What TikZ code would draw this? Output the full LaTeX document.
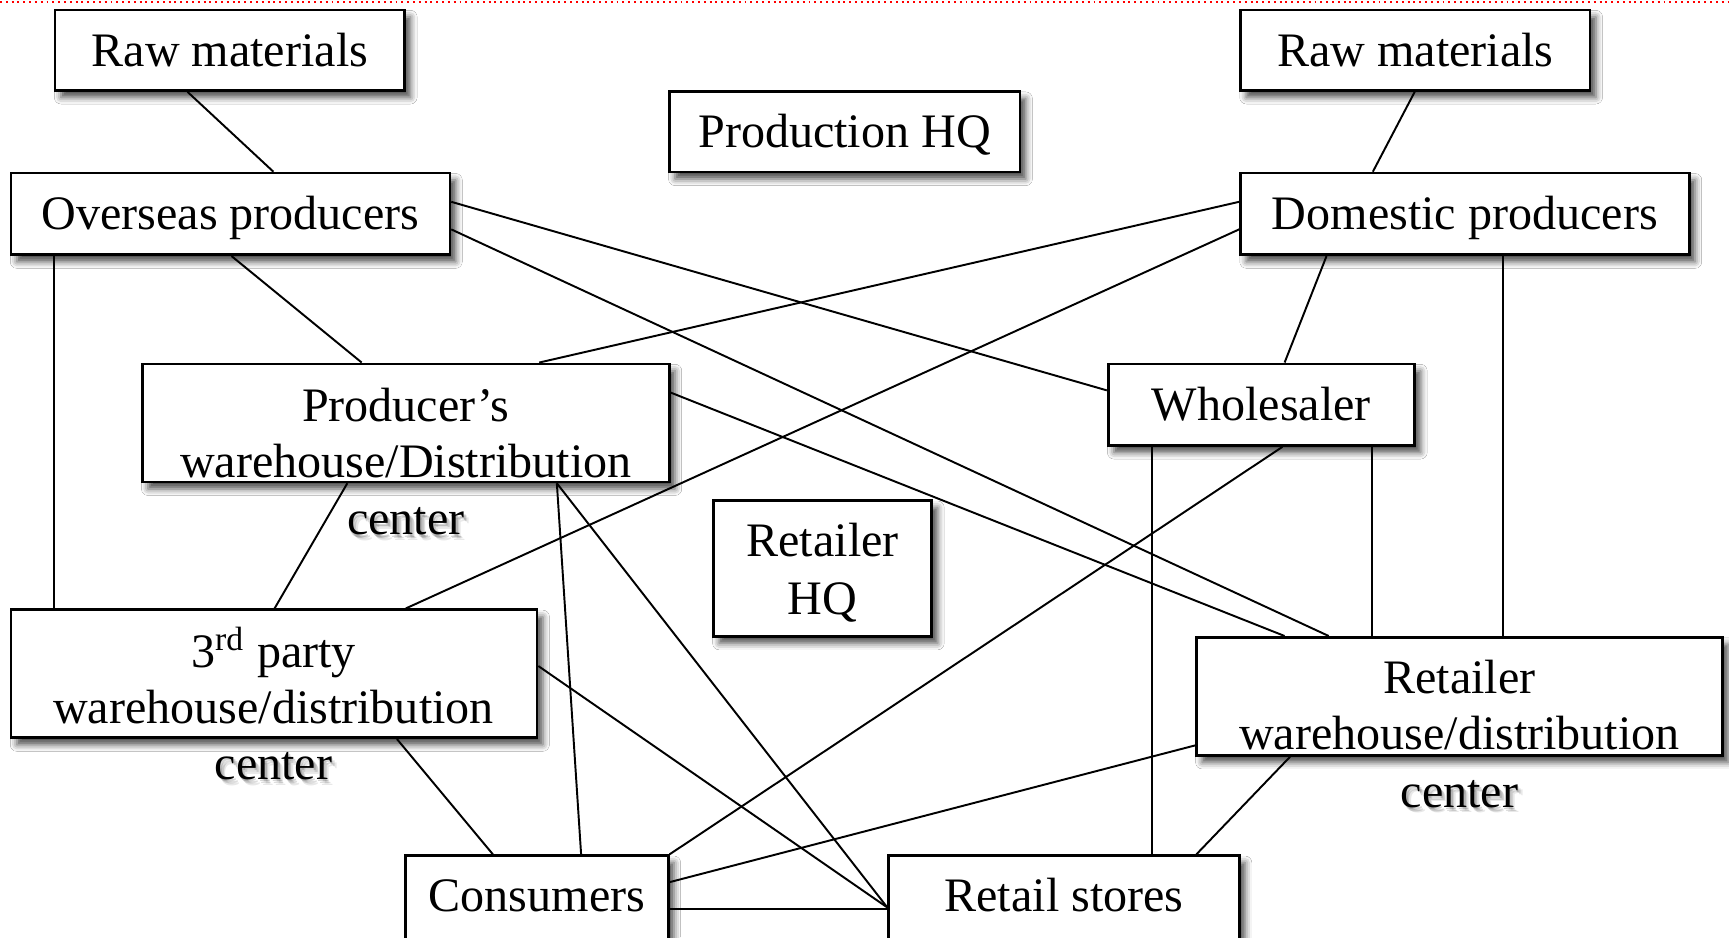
\documentclass[tikz,border=0pt]{standalone}
\usepackage{fontspec}
\setmainfont{Liberation Serif}
\usetikzlibrary{shadows.blur,fit,backgrounds}

% label text with a soft drop shadow (used where text runs out of its box)
\newcommand\softlabel[4]{%
  \node[lbl, opacity=0.16] (#1s1) at ([shift={(1.5,2)}]#2,#3) {#4};
  \node[lbl, opacity=0.13] (#1s2) at ([shift={(3,3.5)}]#2,#3) {#4};
  \node[lbl, opacity=0.09] (#1s3) at ([shift={(4.5,5)}]#2,#3) {#4};
  \node[lbl] (#1) at (#2,#3) {#4};}

\begin{document}
\begin{tikzpicture}[x=0.01cm,y=-0.01cm,
  box/.style={draw=black, line width=0.7pt, fill=white, inner sep=0pt,
    blur shadow={shadow xshift=1.5pt, shadow yshift=-1.8pt,
                 shadow blur radius=1.7pt, shadow opacity=70}},
  lbl/.style={anchor=base, inner sep=0pt, font=\fontsize{12.4}{14.9}\selectfont},
  link/.style={line width=0.5pt, black}]

\useasboundingbox (0,0) rectangle (1568,850);
\clip (0,0) rectangle (1568,850);

% boxes
\node[box, fit={(50,9)(367,82)}]      (rmA) {};
\node[box, fit={(607,83)(925,156)}]   (hqP) {};
\node[box, fit={(1125,9)(1442,82)}]   (rmB) {};
\node[box, fit={(10,157)(408,231)}]   (ovs) {};
\node[box, fit={(1125,157)(1532,231)}] (dom) {};
\node[box, fit={(129,330)(607,437)}]  (pwh) {};
\node[box, fit={(1005,330)(1283,404)}] (whs) {};
\node[box, fit={(647,454)(845,577)}]  (hqR) {};
\node[box, fit={(10,553)(487,669)}]   (tpw) {};
\node[box, fit={(1085,578)(1562,685)}] (rwh) {};
\node[box, fit={(368,776)(606,880)}]  (con) {};
\node[box, fit={(806,776)(1124,880)}] (rst) {};

% texts
\node[lbl] (rmAt) at (208.5,60) {Raw materials};
\node[lbl] (hqPt) at (766,134) {Production HQ};
\node[lbl] (rmBt) at (1283.5,60) {Raw materials};
\node[lbl] (ovst) at (209,208.5) {Overseas producers};
\node[lbl] (domt) at (1328.5,208.5) {Domestic producers};
\node[lbl] (whst) at (1144,381) {Wholesaler};
\node[lbl] (cont) at (487,827) {Consumers};
\node[lbl] (rstt) at (965,827) {Retail stores};

\node[lbl] (pwh1) at (368,382) {Producer’s};
\node[lbl] (pwh2) at (368,433) {warehouse/Distribution};
\softlabel{pwh3}{368}{485}{center}

\node[lbl] (hqR1) at (746,505) {Retailer};
\node[lbl] (hqR2) at (746,557) {HQ};

\node[lbl] (tpw1) at (248,605) {3\textsuperscript{rd} party};
\node[lbl] (tpw2) at (248,656) {warehouse/distribution};
\softlabel{tpw3}{248}{707}{center}

\node[lbl] (rwh1) at (1323.5,629) {Retailer};
\node[lbl] (rwh2) at (1323.5,680) {warehouse/distribution};
\softlabel{rwh3}{1323.5}{732}{center}

\begin{scope}[on background layer]
  \fill[white] (0,0) rectangle (1568,850);
  \coordinate (topL) at (0,1.5);
  \coordinate (topR) at (1568,1.5);
  \draw[red, line width=0.5pt, densely dotted] (topL) -- (topR);

  % connectors
  \draw[link] (170,0 |- rmA.south) -- (248,0 |- ovs.north);
  \draw[link] (1283,0 |- rmB.south) -- (1245,0 |- dom.north);
  \draw[link] (ovs.east |- 0,183) -- (whs.west |- 0,354);
  \draw[link] (ovs.east |- 0,208) -- (1205,0 |- rwh.north);
  \draw[link] (210,0 |- ovs.south) -- (328,0 |- pwh.north);
  \draw[link] (49,0 |- ovs.south) -- (49,0 |- tpw.north);
  \draw[link] (dom.west |- 0,183) -- (489,0 |- pwh.north);
  \draw[link] (dom.west |- 0,208) -- (368,0 |- tpw.north);
  \draw[link] (1203,0 |- dom.south) -- (1165,0 |- whs.north);
  \draw[link] (1363,0 |- dom.south) -- (1363,0 |- rwh.north);
  \draw[link] (pwh.east |- 0,356) -- (1165,0 |- rwh.north);
  \draw[link] (315,0 |- pwh.south) -- (249,0 |- tpw.north);
  \draw[link] (505,0 |- pwh.south) -- (527,0 |- con.north);
  \draw[link] (505,0 |- pwh.south) -- (rst.west |- 0,823);
  \draw[link] (1163,0 |- whs.south) -- (con.north east);
  \draw[link] (1045,0 |- whs.south) -- (1045,0 |- rst.north);
  \draw[link] (1244,0 |- whs.south) -- (1244,0 |- rwh.north);
  \draw[link] (tpw.east |- 0,604) -- (rst.west |- 0,823);
  \draw[link] (360,0 |- tpw.south) -- (447,0 |- con.north);
  \draw[link] (rwh.west |- 0,676) -- (con.east |- 0,800);
  \draw[link] (1170,0 |- rwh.south) -- (1085,0 |- rst.north);
  \draw[link] (con.east |- 0,824) -- (rst.west |- 0,824);
\end{scope}
\end{tikzpicture}
\end{document}
